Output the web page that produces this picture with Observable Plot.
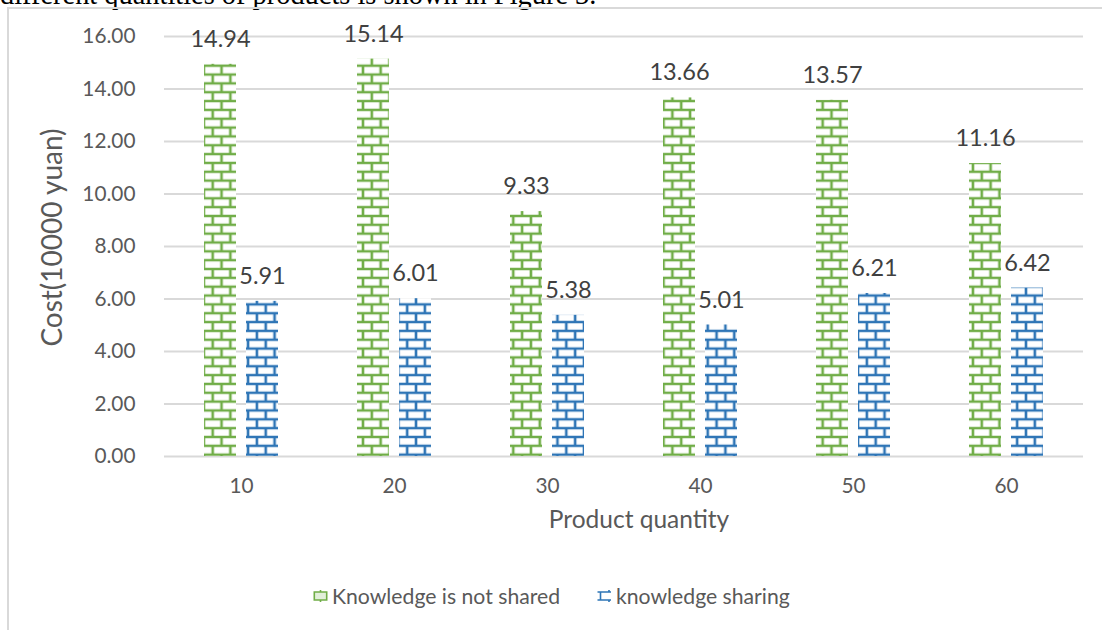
<!DOCTYPE html>
<html>
<head>
<meta charset="utf-8">
<script src="https://cdn.jsdelivr.net/npm/d3@7"></script>
<script src="https://cdn.jsdelivr.net/npm/@observablehq/plot@0.6"></script>
<style>
  html, body { margin: 0; padding: 0; background: #fff; width: 1102px; height: 630px; overflow: hidden; }
  body { position: relative; }
  #cut { position: absolute; left: 0; top: -19px; font-family: "Liberation Serif", "Times New Roman", serif; font-size: 28.4px; line-height: 1; white-space: nowrap; color: #000; }
  #frame { position: absolute; left: 7px; top: 6.5px; width: 1200px; height: 700px; border-left: 2px solid #d9d9d9; border-top: 2px solid #d9d9d9; box-sizing: border-box; }
  #chart { position: absolute; left: 0; top: 0; }
  .item { position: absolute; top: 583px; height: 25px; display: flex; align-items: center; font-family: Lato, sans-serif; font-size: 21.2px; color: #595959; white-space: nowrap; }
  .item svg { margin-right: 4px; }
</style>
</head>
<body>
<div id="cut">different quantities of products is shown in Figure 3.</div>
<div id="frame"></div>
<div id="chart"></div>
<div class="item" style="left:313px">
  <svg width="15" height="14" viewBox="0 0 15 14">
    <rect x="1" y="3" width="13" height="8" fill="#e2efda"/>
    <path d="M0.5,3H14.5M0.5,11H14.5M1.3,3V11M13.7,3V11M7.5,1V3M7.5,11V13" stroke="#70ad47" stroke-width="1.6" fill="none"/>
  </svg><span>Knowledge is not shared</span>
</div>
<div class="item" style="left:597px">
  <svg width="15" height="14" viewBox="0 0 15 14">
    <path d="M0.5,3H14M0.5,11H14M3.5,3V11M12,1V3M12,11V13" stroke="#2e75b6" stroke-width="1.6" fill="none"/>
  </svg><span>knowledge sharing</span>
</div>
<script>
// ---- data ----
const quantities = ["10", "20", "30", "40", "50", "60"];
const seriesNames = ["Knowledge is not shared", "knowledge sharing"];
const notSharedCost = [14.94, 15.14, 9.33, 13.66, 13.57, 11.16];
const sharingCost = [5.91, 6.01, 5.38, 5.01, 6.21, 6.42];
const yTicks = [0, 2, 4, 6, 8, 10, 12, 14, 16];
const xTitle = "Product quantity";
const yTitle = "Cost(10000 yuan)";

const notShared = quantities.map((q, i) => ({q, series: seriesNames[0], v: notSharedCost[i]}));
const sharing = quantities.map((q, i) => ({q, series: seriesNames[1], v: sharingCost[i]}));

// ---- layout ----
const W = 1102, H = 560, ML = 164, MR = 19, MT = 36, MB = 104;
const GREEN = "#70ad47", BLUE = "#2e75b6";
const OFF = 21;

const chart = Plot.plot({
  width: W, height: H,
  marginLeft: ML, marginRight: MR, marginTop: MT, marginBottom: MB,
  style: {fontFamily: "Lato, sans-serif", background: "transparent", overflow: "visible"},
  x: {domain: quantities, paddingInner: 0.791, paddingOuter: 0.3955, label: null},
  y: {domain: [0, 16], label: null},
  marks: [
    Plot.gridY(yTicks, {stroke: "#d9d9d9", strokeOpacity: 1, strokeWidth: 1.8}),
    Plot.axisY(yTicks, {tickSize: 0, tickPadding: 29, tickFormat: d3.format(".2f"), fontSize: 20.8, fill: "#595959", label: null}),
    Plot.axisX({tickSize: 0, tickPadding: 22, fontSize: 20.8, fill: "#595959", label: null}),
    Plot.barY(notShared, {x: "q", y: "v", dx: -OFF, fill: "url(#brickGreen)"}),
    Plot.barY(sharing, {x: "q", y: "v", dx: OFF, fill: "url(#brickBlue)"}),
    Plot.text(notShared, {x: "q", y: "v", dx: -OFF, dy: -25, text: d => d.v.toFixed(2), fontSize: 23.5, fill: "#404040"}),
    Plot.text(sharing, {x: "q", y: "v", dx: OFF, dy: -25, text: d => d.v.toFixed(2), fontSize: 23.5, fill: "#404040"}),
    Plot.text([xTitle], {frameAnchor: "bottom", text: d => d, textAnchor: "middle", dx: 15, dy: 71, fontSize: 24.5, fill: "#595959"}),
    Plot.text([yTitle], {frameAnchor: "left", text: d => d, textAnchor: "middle", rotate: -90, dx: -111, dy: -9, fontSize: 28, fill: "#595959"})
  ]
});

// ---- brick patterns ----
const P = 17.68, h = P / 2, LW = 2.6;
const svg = d3.select(chart);
const defs = svg.insert("defs", ":first-child");
function brick(id, color, tx, ty) {
  const p = defs.append("pattern")
    .attr("id", id)
    .attr("patternUnits", "userSpaceOnUse")
    .attr("width", P).attr("height", P)
    .attr("patternTransform", `translate(${tx},${ty})`);
  p.append("rect").attr("width", P).attr("height", P).attr("fill", "#fff");
  p.append("path")
    .attr("d", `M0,0H${P}M0,${h}H${P}M0,${P}H${P}M0,0V${h}M${P},0V${h}M${h},${h}V${P}`)
    .attr("stroke", color).attr("stroke-width", LW).attr("fill", "none");
}
brick("brickGreen", GREEN, 212.7 + OFF, 74.54);
brick("brickBlue", BLUE, 212.7 - OFF, 74.54);

document.getElementById("chart").appendChild(chart);
</script>
</body>
</html>
